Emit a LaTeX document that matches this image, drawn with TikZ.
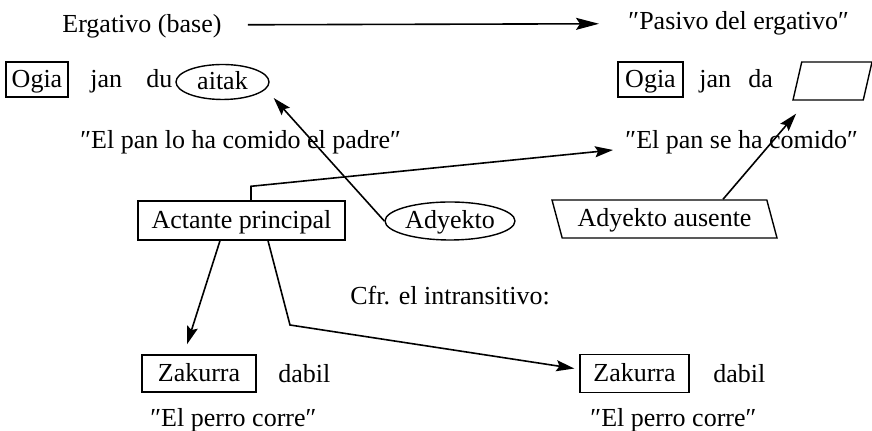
\documentclass[tikz,border=0pt]{standalone}
\usepackage{fontspec}
\setmainfont{Liberation Serif}
\usetikzlibrary{shapes.geometric,arrows.meta,calc}
\newcommand{\dq}{″}
\begin{document}
\begin{tikzpicture}[x=0.5pt,y=-0.5pt,
  font=\fontsize{13}{15}\selectfont,
  txt/.style={inner sep=0pt,anchor=base west},
  boxed/.style={draw,line width=0.7pt,inner sep=0pt,text height=10pt,text depth=2pt},
  oval/.style={ellipse,draw,line width=0.7pt,inner sep=0pt,text height=10pt,text depth=2pt},
  slanted/.style={trapezium,draw,line width=0.7pt,inner sep=0pt,trapezium stretches body,text height=10pt,text depth=2pt},
  conn/.style={line width=0.8pt,-{Stealth[length=9pt,width=5.5pt,inset=1.5pt]}}
]
\useasboundingbox[fill=white] (0,0) rectangle (872,431);

% top row
\node[txt] (erg) at (62,33) {Ergativo (base)};
\node[txt] (pas) at (628,30) {\dq Pasivo del ergativo\dq};
\draw[line width=0.8pt,-{Stealth[length=11.5pt,width=6pt,inset=2pt]}] ([xshift=13pt,yshift=1pt]erg.east) -- ([xshift=-14.5pt]pas.west);

% left sentence
\node[boxed,minimum width=31pt,minimum height=17.5pt] (ogiaL) at (37,79.5) {Ogia};
\node[txt] (janL) at (90,88) {jan};
\node[txt] (duL) at (146,88) {du};
\node[oval,minimum width=46.5pt,minimum height=17.5pt] (aitak) at (222.5,82) {aitak};
\node[txt] (qL) at (80,149) {\dq El pan lo ha comido el padre\dq};

% right sentence
\node[boxed,minimum width=32.5pt,minimum height=17.5pt] (ogiaR) at (650.5,79.5) {Ogia};
\node[txt] (janR) at (699,88) {jan};
\node[txt] (daR) at (748,88) {da};
\node[slanted,trapezium left angle=70,trapezium right angle=110,minimum width=39.5pt,minimum height=19pt] (blank) at (832.5,81) {};
\node[txt] (qR) at (625,149) {\dq El pan se ha comido\dq};

% middle row
\node[boxed,minimum width=103.5pt,minimum height=19.5pt] (act) at (241.5,220.5) {Actante principal};
\node[oval,minimum width=65pt,minimum height=19pt] (ady) at (450,221) {Adyekto};
\node[slanted,trapezium left angle=113,trapezium right angle=67,minimum width=112.5pt,minimum height=19pt] (aus) at (664.5,219) {Adyekto ausente};

\node[txt] (cfr) at (350,305) {Cfr. el intransitivo:};

% bottom row
\node[boxed,minimum width=57pt,minimum height=18.5pt] (zakL) at (199,373.5) {Zakurra};
\node[txt] (dabL) at (278,383) {dabil};
\node[txt] (perroL) at (150,427) {\dq El perro corre\dq};
\node[boxed,minimum width=54.5pt,minimum height=19pt] (zakR) at (634.5,373.5) {Zakurra};
\node[txt] (dabR) at (713,383) {dabil};
\node[txt] (perroR) at (590,427) {\dq El perro corre\dq};

\coordinate (bend) at (290,325);

% connectors
\draw[conn] ($(act.north)+(9.5,0)$) -- ++(0,-14) -- ($(qR.base west)+(-12,1)$);
\draw[conn] (ady.west) -- ($(aitak.east)+(4,16)$);
\draw[conn] ($(aus.north)+(58.5,0)$) -- ($(blank.bottom left corner)+(4,13)$);
\draw[conn] ($(act.south)+(-21.5,0)$) -- ($(zakL.north)+(-12,-10)$);
\draw[conn] ($(act.south)+(26.5,0)$) -- (bend) -- ($(zakR.west)+(-5,-5)$);
\end{tikzpicture}
\end{document}
